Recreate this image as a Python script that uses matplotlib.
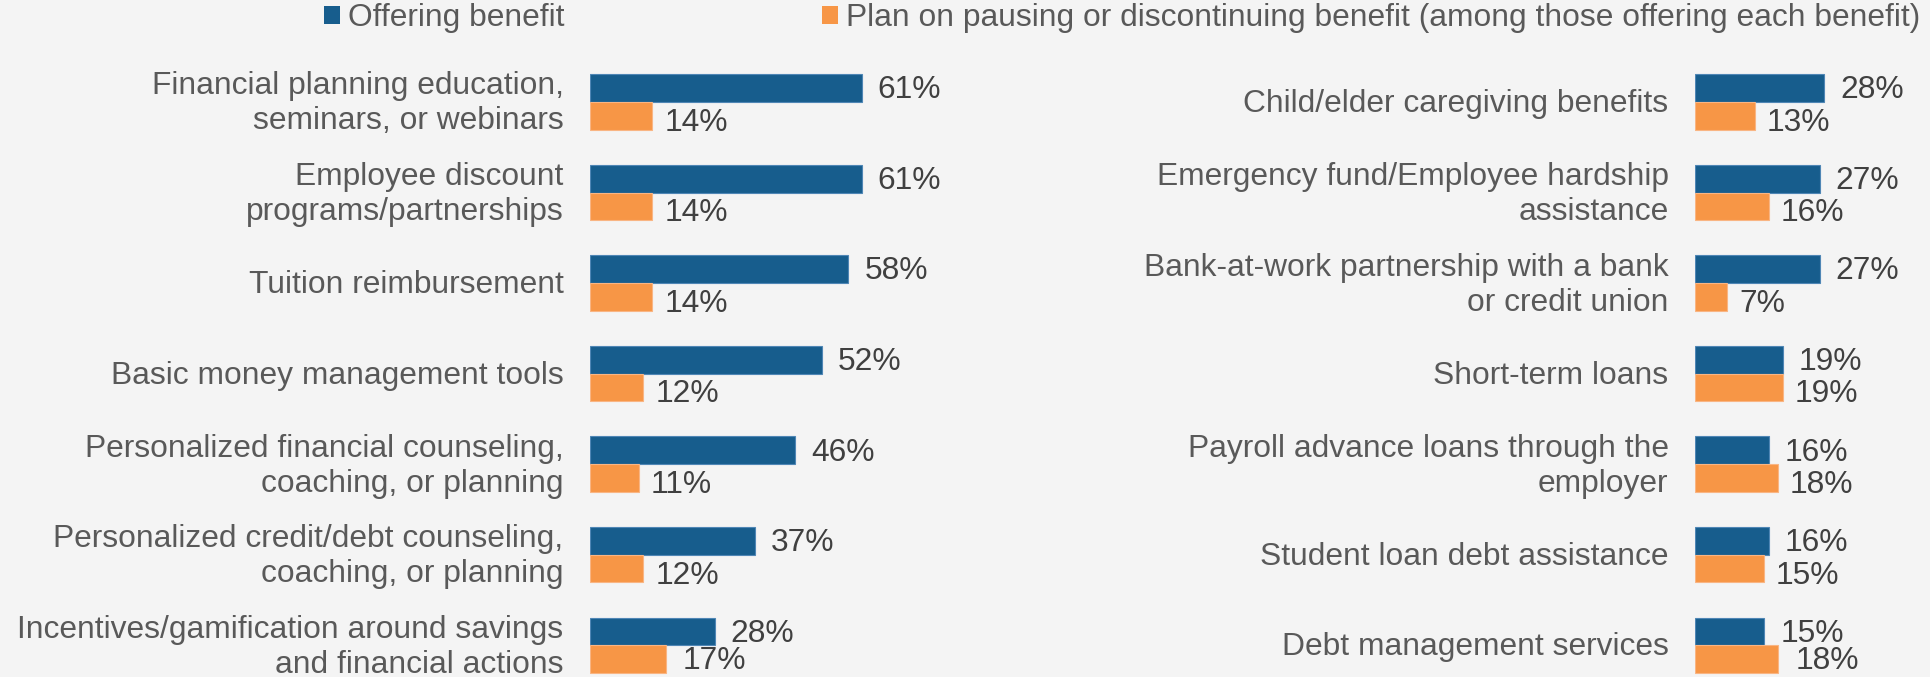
import matplotlib
matplotlib.use("Agg")
import matplotlib.pyplot as plt
from matplotlib.patches import Patch

# ---- data -------------------------------------------------------------
left_categories = [
    "Financial planning education,\nseminars, or webinars",
    "Employee discount\nprograms/partnerships",
    "Tuition reimbursement",
    "Basic money management tools",
    "Personalized financial counseling,\ncoaching, or planning",
    "Personalized credit/debt counseling,\ncoaching, or planning",
    "Incentives/gamification around savings\nand financial actions",
]
left_offering = [61, 61, 58, 52, 46, 37, 28]
left_pausing = [14, 14, 14, 12, 11, 12, 17]

right_categories = [
    "Child/elder caregiving benefits",
    "Emergency fund/Employee hardship\nassistance",
    "Bank-at-work partnership with a bank\nor credit union",
    "Short-term loans",
    "Payroll advance loans through the\nemployer",
    "Student loan debt assistance",
    "Debt management services",
]
right_offering = [28, 27, 27, 19, 16, 16, 15]
right_pausing = [13, 16, 7, 19, 18, 15, 18]

series_names = [
    "Offering benefit",
    "Plan on pausing or discontinuing benefit (among those offering each benefit)",
]

# ---- style ------------------------------------------------------------
BLUE = "#175D8D"
ORANGE = "#F79646"
BG = "#F4F4F4"
LABEL_COLOR = "#595959"
VALUE_COLOR = "#404040"
FONT = "Liberation Sans"
FS = 22.9

plt.rcParams["font.family"] = [FONT, "DejaVu Sans"]

W, H, DPI = 1931, 677, 100
fig = plt.figure(figsize=(W / DPI, H / DPI), dpi=DPI, facecolor=BG)

ROW_PX = 90.55          # vertical distance between category rows
FIRST_ROW_PX = 102.0    # centre of the first pair of bars from the top
BAR_H = 0.306           # height of each bar in row units


def make_panel(left_px, width_px, px_per_pct, categories, offering, pausing):
    ax = fig.add_axes([left_px / W, 0, width_px / W, 1])
    ax.set_facecolor("none")
    ax.set_xlim(0, width_px / px_per_pct)
    top = -FIRST_ROW_PX / ROW_PX
    bottom = (H - FIRST_ROW_PX) / ROW_PX
    ax.set_ylim(bottom, top)
    ax.axis("off")

    rows = list(range(len(categories)))
    y_off = [r - BAR_H / 2 for r in rows]
    y_pau = [r + BAR_H / 2 for r in rows]
    ax.barh(y_off, offering, height=BAR_H, color=BLUE,
            edgecolor="#4F86B5", linewidth=0.8)
    ax.barh(y_pau, pausing, height=BAR_H, color=ORANGE,
            edgecolor="#F9B583", linewidth=0.8)

    last = rows[-1]
    for r, cat, vo, vp, yo, yp in zip(rows, categories, offering, pausing,
                                      y_off, y_pau):
        ax.annotate(cat, xy=(0, r), xycoords=("axes fraction", "data"),
                    xytext=(-19, -1.4), textcoords="offset points",
                    ha="right", va="center", fontsize=FS, color=LABEL_COLOR,
                    linespacing=1.22, annotation_clip=False)
        ax.annotate(f"{vo}%", xy=(vo, yo), xytext=(11.5, -1.6),
                    textcoords="offset points", ha="left", va="center",
                    fontsize=FS, color=VALUE_COLOR, annotation_clip=False)
        # the bottom row's second label stays level with its bar so it
        # remains inside the figure
        dy = -1.6 if r == last else -5.0
        dx = 12.5 if r == last else 8.5
        ax.annotate(f"{vp}%", xy=(vp, yp), xytext=(dx, dy),
                    textcoords="offset points", ha="left", va="center",
                    fontsize=FS, color=VALUE_COLOR, annotation_clip=False)
    return ax


make_panel(590, 420, 4.455, left_categories, left_offering, left_pausing)
make_panel(1695, 236, 4.62, right_categories, right_offering, right_pausing)

# ---- legend -----------------------------------------------------------
handles = [Patch(facecolor=BLUE, edgecolor="none"),
           Patch(facecolor=ORANGE, edgecolor="none")]
fig.legend(handles, series_names, loc="upper left",
           bbox_to_anchor=(324 / W, 1 - 3 / H), ncol=2, frameon=False,
           fontsize=FS, labelcolor=LABEL_COLOR, handlelength=0.5,
           handleheight=0.5, handletextpad=0.25, columnspacing=8.1,
           borderpad=0, borderaxespad=0)

fig.savefig("out.png", dpi=DPI, facecolor=BG)
